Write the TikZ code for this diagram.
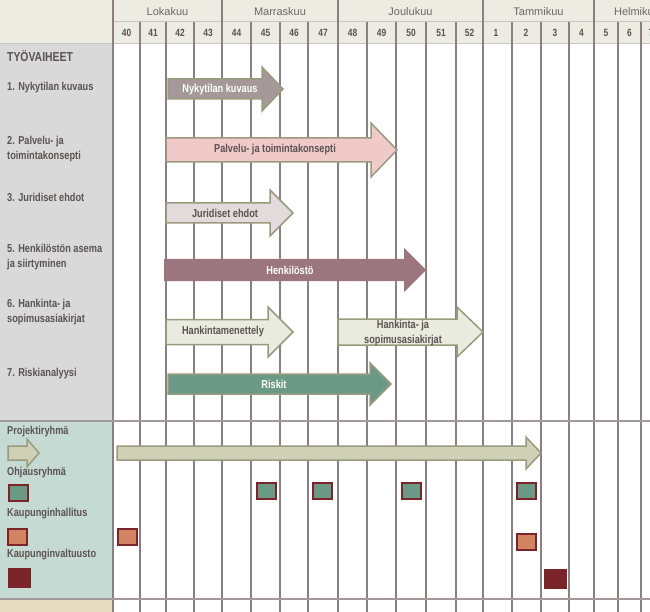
\documentclass[tikz,border=0pt]{standalone}
\usepackage{fontspec}
\setmainfont{Liberation Sans}
\newfontfamily\narrowfont{Liberation Sans}[FakeStretch=0.8]
\usepackage{tikz}
\usetikzlibrary{arrows.meta}

\definecolor{headbg}{HTML}{ECECE2}
\definecolor{leftbg}{HTML}{D9D9D9}
\definecolor{teambg}{HTML}{C6DAD4}
\definecolor{footbg}{HTML}{E7DBC0}
\definecolor{gridc}{HTML}{8C7F82}
\definecolor{olive}{HTML}{999B7F}
\definecolor{txtc}{HTML}{5B5253}
\definecolor{monthc}{HTML}{6B6868}
\definecolor{wine}{HTML}{7B2429}
\definecolor{teal}{HTML}{6A9986}
\definecolor{salmon}{HTML}{D08462}
\definecolor{nykyc}{HTML}{A49898}
\definecolor{palvc}{HTML}{F0C9C9}
\definecolor{juric}{HTML}{E3DBDB}
\definecolor{henkc}{HTML}{9C767E}
\definecolor{hankc}{HTML}{E9EBDE}
\definecolor{projc}{HTML}{CFD0B5}

% arrow: style, x start, x head, x tip, y mid, half body, half head
\newcommand{\barrow}[7]{%
  \draw[#1] (#2,#5-#6) -- (#3,#5-#6) -- (#3,#5-#7) -- (#4,#5) -- (#3,#5+#7) -- (#3,#5+#6) -- (#2,#5+#6) -- cycle;}

\begin{document}
\begin{tikzpicture}[x=1pt,y=-1pt]
\useasboundingbox (0,0) rectangle (650,612);
\clip (0,0) rectangle (650,612);

\begin{scope}
    \fill[white] (0,0) rectangle (650,612);
    \fill[headbg] (0,0) rectangle (650,43);
    \fill[leftbg] (0,43) rectangle (113,421);
    \fill[teambg] (0,421) rectangle (113,599);
    \fill[footbg] (0,599) rectangle (113,612);
\end{scope}

\begin{scope}[every path/.style={draw=gridc,line width=1.1pt}]
    \draw[draw=gridc!45,line width=0.8pt] (113,21.5) -- (650,21.5);
    \draw[draw=gridc!45,line width=0.8pt] (0,43) -- (650,43);
    \foreach \x in {140,166,194,251,280,308,367,396,426,456,512,541,569,618,641}
        \draw (\x,22) -- (\x,612);
    \foreach \x in {113,222,338,483,594}
        \draw (\x,0) -- (\x,612);
    \draw[draw=gridc!80,line width=1.5pt] (0,421) -- (650,421);
    \draw[draw=gridc!80,line width=1.5pt] (0,599) -- (650,599);
\end{scope}

\begin{scope}[every node/.style={text=monthc,font=\fontsize{11}{13}\selectfont,inner sep=0pt}]
    \node (loka) at (167.5,12) {Lokakuu};
    \node (marras) at (280,12) {Marraskuu};
    \node (joulu) at (410.5,12) {Joulukuu};
    \node (tammi) at (538.5,12) {Tammikuu};
    \node (helmi) at (637,12) {Helmikuu};
\end{scope}

\begin{scope}[every node/.style={text=txtc,font=\narrowfont\bfseries\fontsize{10.5}{12}\selectfont,inner sep=0pt}]
    \foreach \w/\x in {40/126.5,41/153,42/180,43/208,44/236.5,45/265.5,46/294,47/323,
                       48/352.5,49/381.5,50/411,51/441,52/469.5,1/496,2/526,3/555,4/581.5,
                       5/606,6/629.5,7/651}
        \node (w\w) at (\x,33) {\w};
\end{scope}

\begin{scope}[every node/.style={anchor=west,align=left,text=txtc,inner sep=0pt,
              font=\narrowfont\bfseries\fontsize{11.5}{14.5}\selectfont}]
    \node[font=\narrowfont\bfseries\fontsize{13}{14}\selectfont] (tyo) at (7,56) {TYÖVAIHEET};
    \node (v1) at (7,88) {1. Nykytilan kuvaus};
    \node (v2) at (7,149) {2. Palvelu- ja\\toimintakonsepti};
    \node (v3) at (7,197) {3. Juridiset ehdot};
    \node (v5) at (7,257) {5. Henkilöstön asema\\ja siirtyminen};
    \node (v6) at (7,312) {6. Hankinta- ja\\sopimusasiakirjat};
    \node (v7) at (7,374) {7. Riskianalyysi};
    \node (p1) at (7,432) {Projektiryhmä};
    \node (p2) at (7,473) {Ohjausryhmä};
    \node (p3) at (7,514) {Kaupunginhallitus};
    \node (p4) at (7,555) {Kaupunginvaltuusto};
\end{scope}

% arrows
\begin{scope}[line width=1.5pt,line join=miter]
    \barrow{draw=olive,fill=nykyc}{168}{262}{283}{89}{10}{22}
    \barrow{draw=olive,fill=palvc}{166}{371}{397}{150}{12}{27}
    \barrow{draw=olive,fill=juric}{166}{270}{293}{213}{10}{23}
    \barrow{draw=none,fill=henkc}{164}{404}{426}{270}{11}{22}
    \barrow{draw=olive,fill=hankc}{166}{268}{293}{332}{12.5}{25}
    \barrow{draw=olive,fill=hankc}{338}{457}{483}{332}{13}{25}
    \barrow{draw=olive,fill=teal}{168}{370}{391}{384}{10}{21}
    \barrow{draw=olive,fill=projc}{117}{526}{541}{453}{7}{16}
    \barrow{draw=olive,fill=projc}{8}{27}{39}{453}{7}{14}
\end{scope}

\begin{scope}[every node/.style={inner sep=0pt,text=txtc,align=center,
              font=\narrowfont\bfseries\fontsize{11.5}{15}\selectfont}]
    \node[text=white] (a1) at (220,90) {Nykytilan kuvaus};
    \node (a2) at (275,150) {Palvelu- ja toimintakonsepti};
    \node (a3) at (225,213) {Juridiset ehdot};
    \node[text=white] (a5) at (290,270) {Henkilöstö};
    \node (a6) at (223,332) {Hankintamenettely};
    \node (a6b) at (403,333.5) {Hankinta- ja\\sopimusasiakirjat};
    \node[text=white] (a7) at (274,384) {Riskit};
\end{scope}

% meetings
\begin{scope}[every node/.style={rectangle,inner sep=0pt,minimum width=19pt,minimum height=16pt,
              draw=wine,line width=2pt}]
    \node[fill=teal] (o0) at (18.5,493) {};
    \node[fill=teal] (o45) at (266.5,490.5) {};
    \node[fill=teal] (o47) at (322.5,491) {};
    \node[fill=teal] (o50) at (411.5,490.5) {};
    \node[fill=teal] (o2) at (526,490.5) {};
    \node[fill=salmon] (h0) at (17.5,537) {};
    \node[fill=salmon] (h40) at (127,537) {};
    \node[fill=salmon] (h2) at (526,542) {};
    \node[fill=wine,minimum width=21pt,minimum height=18pt] (k0) at (19,577.5) {};
    \node[fill=wine,minimum width=21pt,minimum height=18pt] (k3) at (555,578.5) {};
\end{scope}
\end{tikzpicture}
\end{document}
